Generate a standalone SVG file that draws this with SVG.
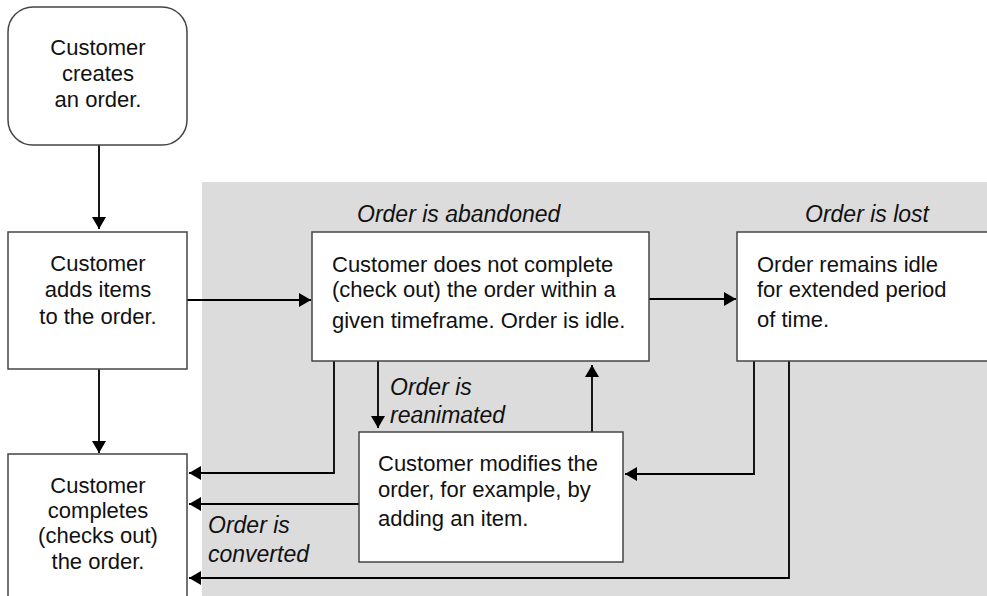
<svg xmlns="http://www.w3.org/2000/svg" width="987" height="596" viewBox="0 0 987 596">
  <style>
    .box { fill: #ffffff; stroke: #444444; stroke-width: 1.5; }
    .zone { fill: #dcdcdc; }
    .txt { font-family: "Liberation Sans", Arial, sans-serif; font-size: 22px; fill: #111111; }
    .mid { text-anchor: middle; }
    .lbl { font-family: "Liberation Sans", Arial, sans-serif; font-size: 23px; font-style: italic; fill: #111111; }
    .wire { fill: none; stroke: #000000; stroke-width: 1.8; marker-end: url(#arrow); }
  </style>
  <defs>
    <marker id="arrow" markerUnits="userSpaceOnUse" markerWidth="13" markerHeight="14" refX="12" refY="7" orient="auto">
      <path d="M0,0 L12,7 L0,14 Z" fill="#000000"/>
    </marker>
  </defs>

  <!-- idle-order zone -->
  <rect class="zone" x="202" y="182" width="785" height="414"/>

  <!-- state labels -->
  <g id="labels">
    <text class="lbl" x="357" y="222">Order is abandoned</text>
    <text class="lbl" x="805" y="222">Order is lost</text>
    <text class="lbl" x="390" y="395">Order is</text>
    <text class="lbl" x="390" y="423">reanimated</text>
    <text class="lbl" x="208" y="533">Order is</text>
    <text class="lbl" x="208" y="562">converted</text>
  </g>

  <!-- connectors -->
  <g id="connectors">
    <path class="wire" d="M99,145 V229"/>
    <path class="wire" d="M187,300 H311"/>
    <path class="wire" d="M649,299 H736"/>
    <path class="wire" d="M99,369 V453"/>
    <path class="wire" d="M334,361 V473 H189"/>
    <path class="wire" d="M359,504 H189"/>
    <path class="wire" d="M789,361 V578 H189"/>
    <path class="wire" d="M378,361 V428"/>
    <path class="wire" d="M592,432 V365"/>
    <path class="wire" d="M754,361 V474 H625"/>
  </g>

  <g id="create">
    <rect class="box" x="8" y="7" width="179" height="138" rx="25" ry="25"/>
    <text class="txt mid" x="98" y="55">Customer</text>
    <text class="txt mid" x="98" y="81">creates</text>
    <text class="txt mid" x="98" y="107">an order.</text>
  </g>

  <g id="add-items">
    <rect class="box" x="8" y="232" width="179" height="137"/>
    <text class="txt mid" x="98" y="271">Customer</text>
    <text class="txt mid" x="98" y="297">adds items</text>
    <text class="txt mid" x="98" y="324">to the order.</text>
  </g>

  <g id="abandoned">
    <rect class="box" x="312" y="232" width="337" height="129"/>
    <text class="txt" x="332" y="272">Customer does not complete</text>
    <text class="txt" x="332" y="297">(check out) the order within a</text>
    <text class="txt" x="332" y="328">given timeframe. Order is idle.</text>
  </g>

  <g id="lost">
    <rect class="box" x="737" y="232" width="262" height="129"/>
    <text class="txt" x="757" y="272">Order remains idle</text>
    <text class="txt" x="757" y="297">for extended period</text>
    <text class="txt" x="757" y="327">of time.</text>
  </g>

  <g id="completes">
    <rect class="box" x="8" y="454" width="179" height="152"/>
    <text class="txt mid" x="98" y="493">Customer</text>
    <text class="txt mid" x="98" y="518">completes</text>
    <text class="txt mid" x="98" y="543">(checks out)</text>
    <text class="txt mid" x="98" y="569">the order.</text>
  </g>

  <g id="modifies">
    <rect class="box" x="359" y="432" width="264" height="130"/>
    <text class="txt" x="378" y="471">Customer modifies the</text>
    <text class="txt" x="378" y="497">order, for example, by</text>
    <text class="txt" x="378" y="526">adding an item.</text>
  </g>
</svg>
